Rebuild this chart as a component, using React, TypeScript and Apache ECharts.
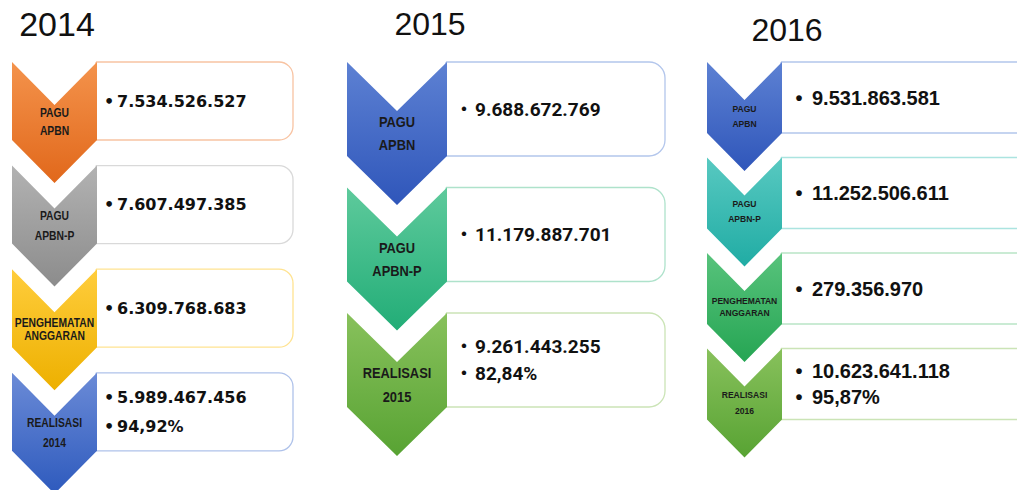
import React, { useEffect, useRef } from "react";
import * as echarts from "echarts";

const years = ["2014", "2015", "2016"];

const labels2014 = [["PAGU", "APBN"], ["PAGU", "APBN-P"], ["PENGHEMATAN", "ANGGARAN"], ["REALISASI", "2014"]];
const values2014 = [["7.534.526.527"], ["7.607.497.385"], ["6.309.768.683"], ["5.989.467.456", "94,92%"]];

const labels2015 = [["PAGU", "APBN"], ["PAGU", "APBN-P"], ["REALISASI", "2015"]];
const values2015 = [["9.688.672.769"], ["11.179.887.701"], ["9.261.443.255", "82,84%"]];

const labels2016 = [["PAGU", "APBN"], ["PAGU", "APBN-P"], ["PENGHEMATAN", "ANGGARAN"], ["REALISASI", "2016"]];
const values2016 = [["9.531.863.581"], ["11.252.506.611"], ["279.356.970"], ["10.623.641.118", "95,87%"]];

// [gradient top, gradient bottom, box border]
const colors2014 = [
  ["#F4934C", "#E1681B", "#F8C3A2"],
  ["#B2B2B2", "#8C8C8C", "#D9D9D9"],
  ["#FFCD3C", "#EDB000", "#FFE391"],
  ["#6B8BD7", "#2E5ABD", "#AFC2EA"],
];
const colors2015 = [
  ["#5D81D3", "#2F56BA", "#B3C6EC"],
  ["#5ECA9C", "#22AD77", "#AEE2CB"],
  ["#88C15C", "#58A333", "#CBE4B6"],
];
const colors2016 = [
  ["#5D81D3", "#2F56BA", "#B3C6EC"],
  ["#58C9C1", "#20ACA4", "#ABE4E0"],
  ["#58C37C", "#25A553", "#B9E5C6"],
  ["#88C15C", "#58A333", "#CBE4B6"],
];

const panels = [
  {
    year: years[0], labels: labels2014, values: values2014, colors: colors2014,
    titleX: 57, titleY: 24, titleSize: 34,
    top: 62, step: 103.6, h: 78, t: 43, x0: 12, x1: 97, boxRight: 293, r: 14,
    labelSize: 12, labelScale: 0.86, labelGaps: [18, 20, 13, 20],
    valueFont: 'bold 16px "DejaVu Sans"', bulletX: 109, numX: 117, lineGap: 29,
  },
  {
    year: years[1], labels: labels2015, values: values2015, colors: colors2015,
    titleX: 430, titleY: 24, titleSize: 32,
    top: 62, step: 125.5, h: 94, t: 49, x0: 347, x1: 447, boxRight: 665, r: 16,
    labelSize: 14, labelScale: 0.92, labelGaps: [23, 23, 24],
    valueFont: 'bold 19px Roboto', bulletX: 464, numX: 475, lineGap: 27,
  },
  {
    year: years[2], labels: labels2016, values: values2016, colors: colors2016,
    titleX: 787, titleY: 30, titleSize: 32,
    top: 62, step: 95.5, h: 71, t: 38, x0: 707, x1: 782, boxRight: 1040, r: 3,
    labelSize: 9.5, labelScale: 0.9, labelGaps: [15, 15, 12, 16],
    valueFont: 'bold 20px "Liberation Sans"', bulletX: 799, numX: 812, lineGap: 26,
  },
];

function buildGraphics() {
  const els: any[] = [];
  panels.forEach((p) => {
    els.push({
      type: "text",
      style: {
        text: p.year, x: p.titleX, y: p.titleY, fill: "#111",
        font: `${p.titleSize}px "Liberation Sans"`, textAlign: "center", textVerticalAlign: "middle",
      },
    });
    p.labels.forEach((lab, i) => {
      const top = p.top + i * p.step;
      const [cTop, cBot, border] = p.colors[i];
      const cx = (p.x0 + p.x1) / 2;
      els.push({
        type: "rect",
        shape: { x: p.x1 - 1, y: top, width: p.boxRight - p.x1 + 1, height: p.h, r: [0, p.r, p.r, 0] },
        style: { fill: "#fff", stroke: border, lineWidth: 1.3 },
      });
      els.push({
        type: "polygon",
        shape: {
          points: [
            [p.x0, top], [cx, top + p.t], [p.x1, top], [p.x1, top + p.h],
            [cx, top + p.h + p.t], [p.x0, top + p.h],
          ],
        },
        style: {
          fill: new echarts.graphic.LinearGradient(0, 0, 0, 1, [
            { offset: 0, color: cTop }, { offset: 1, color: cBot },
          ]),
        },
      });
      const ly = top + 0.765 * p.h;
      const gap = p.labelGaps[i];
      lab.forEach((line, k) => {
        els.push({
          type: "text",
          x: cx,
          y: ly + (k === 0 ? -gap / 2 : gap / 2),
          scaleX: p.labelScale,
          style: {
            text: line, x: 0, y: 0, fill: "#1a1a1a",
            font: `bold ${p.labelSize}px "Liberation Sans"`,
            textAlign: "center", textVerticalAlign: "middle",
          },
        });
      });
      const vals = p.values[i];
      const my = top + p.h / 2;
      vals.forEach((v, k) => {
        const y = vals.length === 1 ? my : my + (k === 0 ? -p.lineGap / 2 : p.lineGap / 2);
        els.push({
          type: "text",
          style: { text: "•", x: p.bulletX, y, fill: "#111", font: p.valueFont, textAlign: "center", textVerticalAlign: "middle" },
        });
        els.push({
          type: "text",
          style: { text: v, x: p.numX, y, fill: "#111", font: p.valueFont, textAlign: "left", textVerticalAlign: "middle" },
        });
      });
    });
  });
  return els;
}

export default function App() {
  const ref = useRef<HTMLDivElement>(null);
  useEffect(() => {
    document.body.style.margin = "0";
    const chart = echarts.init(ref.current!, undefined, { renderer: "svg" });
    chart.setOption({
      animation: false,
      backgroundColor: "#ffffff",
      graphic: { elements: buildGraphics() },
    });
    return () => chart.dispose();
  }, []);
  return <div ref={ref} style={{ width: 1017, height: 490 }} />;
}
